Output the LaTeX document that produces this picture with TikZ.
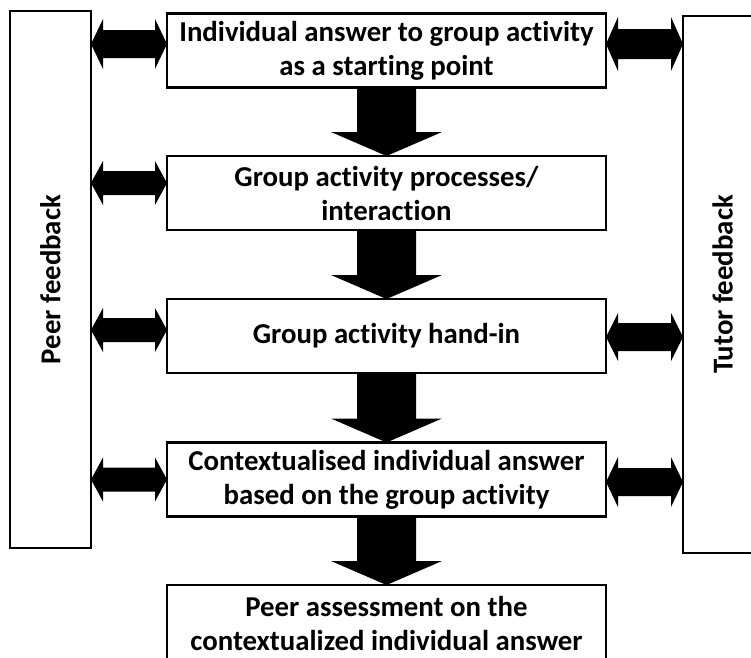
\documentclass[tikz,border=0pt]{standalone}
\usepackage{fontspec}
\setmainfont{Carlito}[Ligatures=NoCommon]
\usetikzlibrary{calc}

% Horizontal block arrow with a head at both ends: #1 left tip, #2 right tip,
% #3 half shaft thickness, #4 half head height
\newcommand\twowayblock[4]{%
  \fill let \p1=(#1), \p2=(#2) in
    (\x1,\y1) -- (\x1+12pt,\y1+#4) -- (\x1+12pt,\y1+#3) -- (\x2-12pt,\y2+#3)
    -- (\x2-12pt,\y2+#4) -- (\x2,\y2) -- (\x2-12pt,\y2-#4) -- (\x2-12pt,\y2-#3)
    -- (\x1+12pt,\y1-#3) -- (\x1+12pt,\y1-#4) -- cycle;}

% Downward block arrow from the bottom of node #1 to the top of node #2
\newcommand\downblock[2]{%
  \fill let \p1=(#1.south), \p2=(#2.north) in
    (\x1-29.5pt,\y1) -- (\x1+29.5pt,\y1) -- (\x1+29.5pt,\y2+24pt)
    -- (\x1+55.5pt,\y2+24pt) -- (\x2,\y2) -- (\x1-55.5pt,\y2+24pt)
    -- (\x1-29.5pt,\y2+24pt) -- cycle;}

\begin{document}
\begin{tikzpicture}[x=1pt,y=-1pt,
  labelfont/.style={font=\fontsize{28.8}{34}\selectfont\bfseries},
  stage/.style={draw, line width=2.5pt, minimum width=439pt, minimum height=74pt,
    inner sep=0pt, outer sep=0pt, align=center, labelfont},
  side/.style={draw, line width=2.5pt, inner sep=0pt, outer sep=0pt}]
\useasboundingbox (0,0) rectangle (751,657);

% feedback columns
\node[side, minimum width=81pt, minimum height=537pt] (peer) at (50.5,279.5) {};
\node[rotate=90, labelfont] (peertext) at (peer.center) {Peer feedback};
\node[side, minimum width=79pt, minimum height=537pt] (tutor) at (722.5,284.5) {};
\node[rotate=90, labelfont] (tutortext) at (tutor.center) {Tutor feedback};

% stages
\node[stage] (b1) at (386.5,50.5) {Individual answer to group activity\\as a starting point};
\node[stage] (b2) at (386.5,193) {Group activity processes/\\interaction};
\node[stage] (b3) at (386.5,336) {Group activity hand-in};
\node[stage] (b4) at (386.5,479.5) {Contextualised individual answer\\based on the group activity};
\node[stage, minimum height=76pt] (b5) at (386.5,623) {Peer assessment on the\\contextualized individual answer};

% flow between stages
\downblock{b1}{b2}
\downblock{b2}{b3}
\downblock{b3}{b4}
\downblock{b4}{b5}

% peer feedback links
\coordinate (l1) at ($(b1.west)+(0,-6.5)$);
\coordinate (l2) at ($(b2.west)+(0,-10)$);
\coordinate (l3) at ($(b3.west)+(0,-6)$);
\coordinate (l4) at ($(b4.west)+(0,0)$);
\twowayblock{peer.east |- l1}{l1}{14pt}{25pt}
\twowayblock{peer.east |- l2}{l2}{12pt}{22pt}
\twowayblock{peer.east |- l3}{l3}{12pt}{22pt}
\twowayblock{peer.east |- l4}{l4}{12pt}{22pt}

% tutor feedback links
\coordinate (r1) at ($(b1.east)+(0,-6.5)$);
\coordinate (r3) at ($(b3.east)+(0,1)$);
\coordinate (r4) at ($(b4.east)+(0,2.5)$);
\twowayblock{r1}{tutor.west |- r1}{15pt}{27pt}
\twowayblock{r3}{tutor.west |- r3}{14pt}{24pt}
\twowayblock{r4}{tutor.west |- r4}{14pt}{25pt}
\end{tikzpicture}
\end{document}
